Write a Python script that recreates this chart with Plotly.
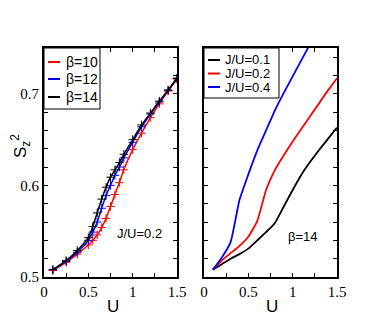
import plotly.graph_objects as go
from plotly.subplots import make_subplots

# left panel: J/U=0.2, several beta
u_left = [0.1, 0.25, 0.375, 0.5, 0.55, 0.6, 0.65, 0.7, 0.75, 0.8, 0.85, 0.9,
          1.0, 1.1, 1.2, 1.3, 1.4, 1.5]
sz_b10 = [0.507, 0.516, 0.525, 0.535, 0.540, 0.546, 0.554, 0.564, 0.577, 0.590,
          0.603, 0.617, 0.639, 0.657, 0.674, 0.689, 0.703, 0.716]
sz_b12 = [0.508, 0.517, 0.527, 0.540, 0.549, 0.560, 0.575, 0.589, 0.600, 0.611,
          0.620, 0.630, 0.647, 0.664, 0.678, 0.691, 0.704, 0.717]
sz_b14 = [0.508, 0.518, 0.529, 0.543, 0.555, 0.570, 0.585, 0.598, 0.609, 0.617,
          0.625, 0.634, 0.650, 0.666, 0.679, 0.692, 0.704, 0.717]

# right panel: beta=14, several J/U
u_right = [0.1, 0.2, 0.3, 0.4, 0.5, 0.6, 0.7, 0.8, 0.9, 1.0, 1.1, 1.2, 1.3, 1.4, 1.5]
sz_j01 = [0.508, 0.514, 0.520, 0.525, 0.531, 0.540, 0.549, 0.559, 0.577, 0.595,
          0.612, 0.626, 0.639, 0.651, 0.663]
sz_j02 = [0.508, 0.518, 0.526, 0.534, 0.544, 0.561, 0.595, 0.617, 0.633, 0.648,
          0.662, 0.676, 0.690, 0.704, 0.717]
u_j04 = [0.1, 0.2, 0.3, 0.4, 0.5, 0.6, 0.7, 0.8, 0.9, 1.0, 1.1, 1.2]
sz_j04 = [0.508, 0.521, 0.538, 0.584, 0.612, 0.638, 0.660, 0.682, 0.701, 0.719,
          0.737, 0.755]

W, H = 382, 327
OFF = 8  # page body margin


def px(x):
    return (x - OFF) / W


def py(y):
    return (H - (y - OFF)) / H


fig = make_subplots(rows=1, cols=2)

for u, s, c in [(u_left, sz_b10, "red"), (u_left, sz_b12, "blue"), (u_left, sz_b14, "black")]:
    fig.add_trace(go.Scatter(x=u, y=s, mode="lines+markers", showlegend=False,
                             line=dict(color=c, width=1.5, shape="spline", smoothing=0.5),
                             marker=dict(symbol="cross-thin", size=6,
                                         line=dict(color=c, width=1))),
                  row=1, col=1)

for u, s, c in [(u_right, sz_j01, "black"), (u_right, sz_j02, "red"), (u_j04, sz_j04, "blue")]:
    fig.add_trace(go.Scatter(x=u, y=s, mode="lines", showlegend=False,
                             line=dict(color=c, width=1.8, shape="spline", smoothing=0.5)),
                  row=1, col=2)

serif = "Liberation Serif"
axis_common = dict(showline=True, linecolor="black", linewidth=2, mirror="allticks",
                   ticks="inside", ticklen=4, tickcolor="black", tickwidth=1,
                   showgrid=False, zeroline=False,
                   tickfont=dict(family=serif, size=15, color="black"))

xa = dict(axis_common, range=[0, 1.5], tickvals=[0, 0.5, 1, 1.5],
          ticktext=["0", "0.5", "1", "1.5"],
          minor=dict(dtick=0.25, ticks="inside", ticklen=4, tickcolor="black"))
ya = dict(axis_common, range=[0.5, 0.75], tickvals=[0.5, 0.6, 0.7],
          ticktext=["0.5", "0.6", "0.7"],
          minor=dict(tick0=0.5, dtick=0.02, ticks="inside", ticklen=4, tickcolor="black"))

fig.update_layout(
    width=W, height=H,
    margin=dict(l=0, r=0, t=0, b=0, autoexpand=False),
    paper_bgcolor="white", plot_bgcolor="white",
    xaxis=dict(xa, domain=[px(44), px(177)]),
    xaxis2=dict(xa, domain=[px(204), px(337)]),
    yaxis=dict(ya, domain=[py(277), py(48)]),
    yaxis2=dict(ya, domain=[py(277), py(48)], showticklabels=False),
)

sans = "Liberation Sans, Arial, sans-serif"
ann = [
    dict(x=px(20), y=py(146), text="S<sub>z</sub><sup>2</sup>", textangle=-90,
         font=dict(family=sans, size=17)),
    dict(x=px(113), y=py(306), text="U", font=dict(family=sans, size=17)),
    dict(x=px(272), y=py(306), text="U", font=dict(family=sans, size=17)),
    dict(x=px(139), y=py(233), text="J/U=0.2", font=dict(family=sans, size=13)),
    dict(x=px(303), y=py(237), text="β=14", font=dict(family=sans, size=13)),
]
shapes = [
    dict(type="rect", xref="paper", yref="paper", x0=px(44), x1=px(100),
         y0=py(109), y1=py(48), line=dict(color="black", width=1), fillcolor="white",
         layer="above"),
    dict(type="rect", xref="paper", yref="paper", x0=px(204), x1=px(279),
         y0=py(98), y1=py(48), line=dict(color="black", width=1), fillcolor="white",
         layer="above"),
]
for label, c, yy in [("β=10", "red", 62), ("β=12", "blue", 79), ("β=14", "black", 97)]:
    shapes.append(dict(type="line", xref="paper", yref="paper", x0=px(48), x1=px(60),
                       y0=py(yy), y1=py(yy), line=dict(color=c, width=2), layer="above"))
    ann.append(dict(x=px(64), y=py(yy), text=label, xanchor="left",
                    font=dict(family=sans, size=14)))
for label, c, yy in [("J/U=0.1", "black", 60), ("J/U=0.2", "red", 73.5), ("J/U=0.4", "blue", 87)]:
    shapes.append(dict(type="line", xref="paper", yref="paper", x0=px(208), x1=px(220),
                       y0=py(yy), y1=py(yy), line=dict(color=c, width=2), layer="above"))
    ann.append(dict(x=px(223), y=py(yy), text=label, xanchor="left",
                    font=dict(family=sans, size=13)))

for a in ann:
    a.setdefault("xanchor", "center")
    a.update(xref="paper", yref="paper", showarrow=False, yanchor="middle")
    a["font"]["color"] = "black"

fig.update_layout(annotations=ann, shapes=shapes)

fig.write_html("out.html")
